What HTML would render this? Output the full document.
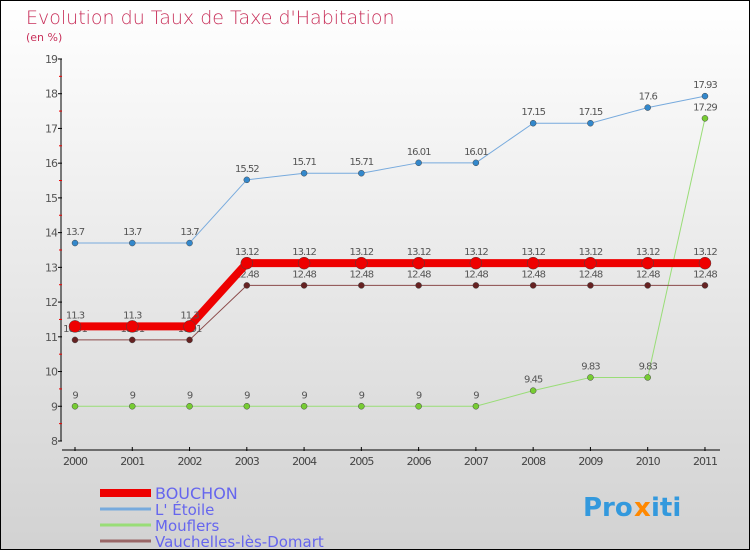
<!DOCTYPE html>
<html><head><meta charset="utf-8"><style>
body{margin:0}
#c{width:750px;height:550px;position:relative;box-sizing:border-box;border:1px solid #000;background:linear-gradient(#fff,#d2d2d2);overflow:hidden;font-family:"DejaVu Sans","Liberation Sans",sans-serif}
</style></head><body>
<div id="c">
<svg id="s" width="750" height="550" style="position:absolute;left:-1px;top:-1px">
<text x="26" y="24" font-size="19" fill="#c8305a" font-weight="200">Evolution du Taux de Taxe d'Habitation</text>
<text x="26" y="41" font-size="11" fill="#c8305a">(en %)</text>
</svg>
</div>
<script>
const years=[2000,2001,2002,2003,2004,2005,2006,2007,2008,2009,2010,2011];
const bouchon=[11.3,11.3,11.3,13.12,13.12,13.12,13.12,13.12,13.12,13.12,13.12,13.12];
const etoile=[13.7,13.7,13.7,15.52,15.71,15.71,16.01,16.01,17.15,17.15,17.6,17.93];
const mouflers=[9,9,9,9,9,9,9,9,9.45,9.83,9.83,17.29];
const vauchelles=[10.91,10.91,10.91,12.48,12.48,12.48,12.48,12.48,12.48,12.48,12.48,12.48];
const yTicks=[8,9,10,11,12,13,14,15,16,17,18,19];
const names=["BOUCHON","L' Étoile","Mouflers","Vauchelles-lès-Domart"];
const NS="http://www.w3.org/2000/svg",s=document.getElementById('s');
const X=i=>75+i*57.27, Y=v=>441-(v-8)*34.73;
function el(t,a,txt){const e=document.createElementNS(NS,t);for(const k in a)e.setAttribute(k,a[k]);if(txt!=null)e.textContent=txt;s.appendChild(e);return e;}
let e=el('line',{x1:61,y1:59,x2:61,y2:441,stroke:'#000'});

e=el('line',{x1:62,y1:450,x2:720,y2:450,stroke:'#000'});

yTicks.forEach((v,i)=>{el('line',{x1:58,y1:Y(v),x2:62,y2:Y(v),stroke:'#000'});
 if(i<yTicks.length-1)el('line',{x1:59,y1:Y(v+0.5),x2:62,y2:Y(v+0.5),stroke:'#e00'});
 e=el('text',{x:57,y:Y(v)+4,'font-size':11,fill:'#555','text-anchor':'end','letter-spacing':'-1'},v);
 });
years.forEach((y,i)=>{el('line',{x1:X(i),y1:447,x2:X(i),y2:451,stroke:'#000'});
 e=el('text',{x:X(i),y:465,'font-size':11,fill:'#444','text-anchor':'middle','letter-spacing':'-1'},y);
 });
function series(d,col,w,r,dot,name){
 e=el('polyline',{points:d.map((v,i)=>X(i)+','+Y(v)).join(' '),fill:'none',stroke:col,'stroke-width':w});
 
 d.forEach((v,i)=>{e=el('circle',{cx:X(i),cy:Y(v),r:r,fill:dot,stroke:'#444','stroke-width':0.5});
  
  e=el('text',{x:X(i),y:Y(v)-8,'font-size':10,fill:'#555','text-anchor':'middle','letter-spacing':'-1'},v);
  });
}
series(mouflers,'#99dd77',1,3,'#77cc33','mouflers');
series(vauchelles,'#8b4a4a',1,3,'#662222','vauchelles');
series(etoile,'#77aadd',1,3,'#3388cc','etoile');
series(bouchon,'#ee0000',8,6,'#ee0000','bouchon');
const lc=['#ee0000','#77aadd','#99dd77','#996666'],lw=[8,3,3,3];
names.forEach((n,i)=>{const yy=493+i*16;
 e=el('line',{x1:100,y1:yy,x2:151,y2:yy,stroke:lc[i],'stroke-width':lw[i]});
 
 e=el('text',{x:155,y:yy+6,'font-size':i?15:16,fill:'#6666ee'},n);
 });
e=el('text',{x:583,y:516,'font-size':26,'font-weight':'bold',fill:'#3399dd'},'Pro');

el('text',{x:634,y:516,'font-size':26,'font-weight':'bold',fill:'#ff8800'},'x');
el('text',{x:651,y:516,'font-size':26,'font-weight':'bold',fill:'#3399dd'},'iti');
</script>
</body></html>
